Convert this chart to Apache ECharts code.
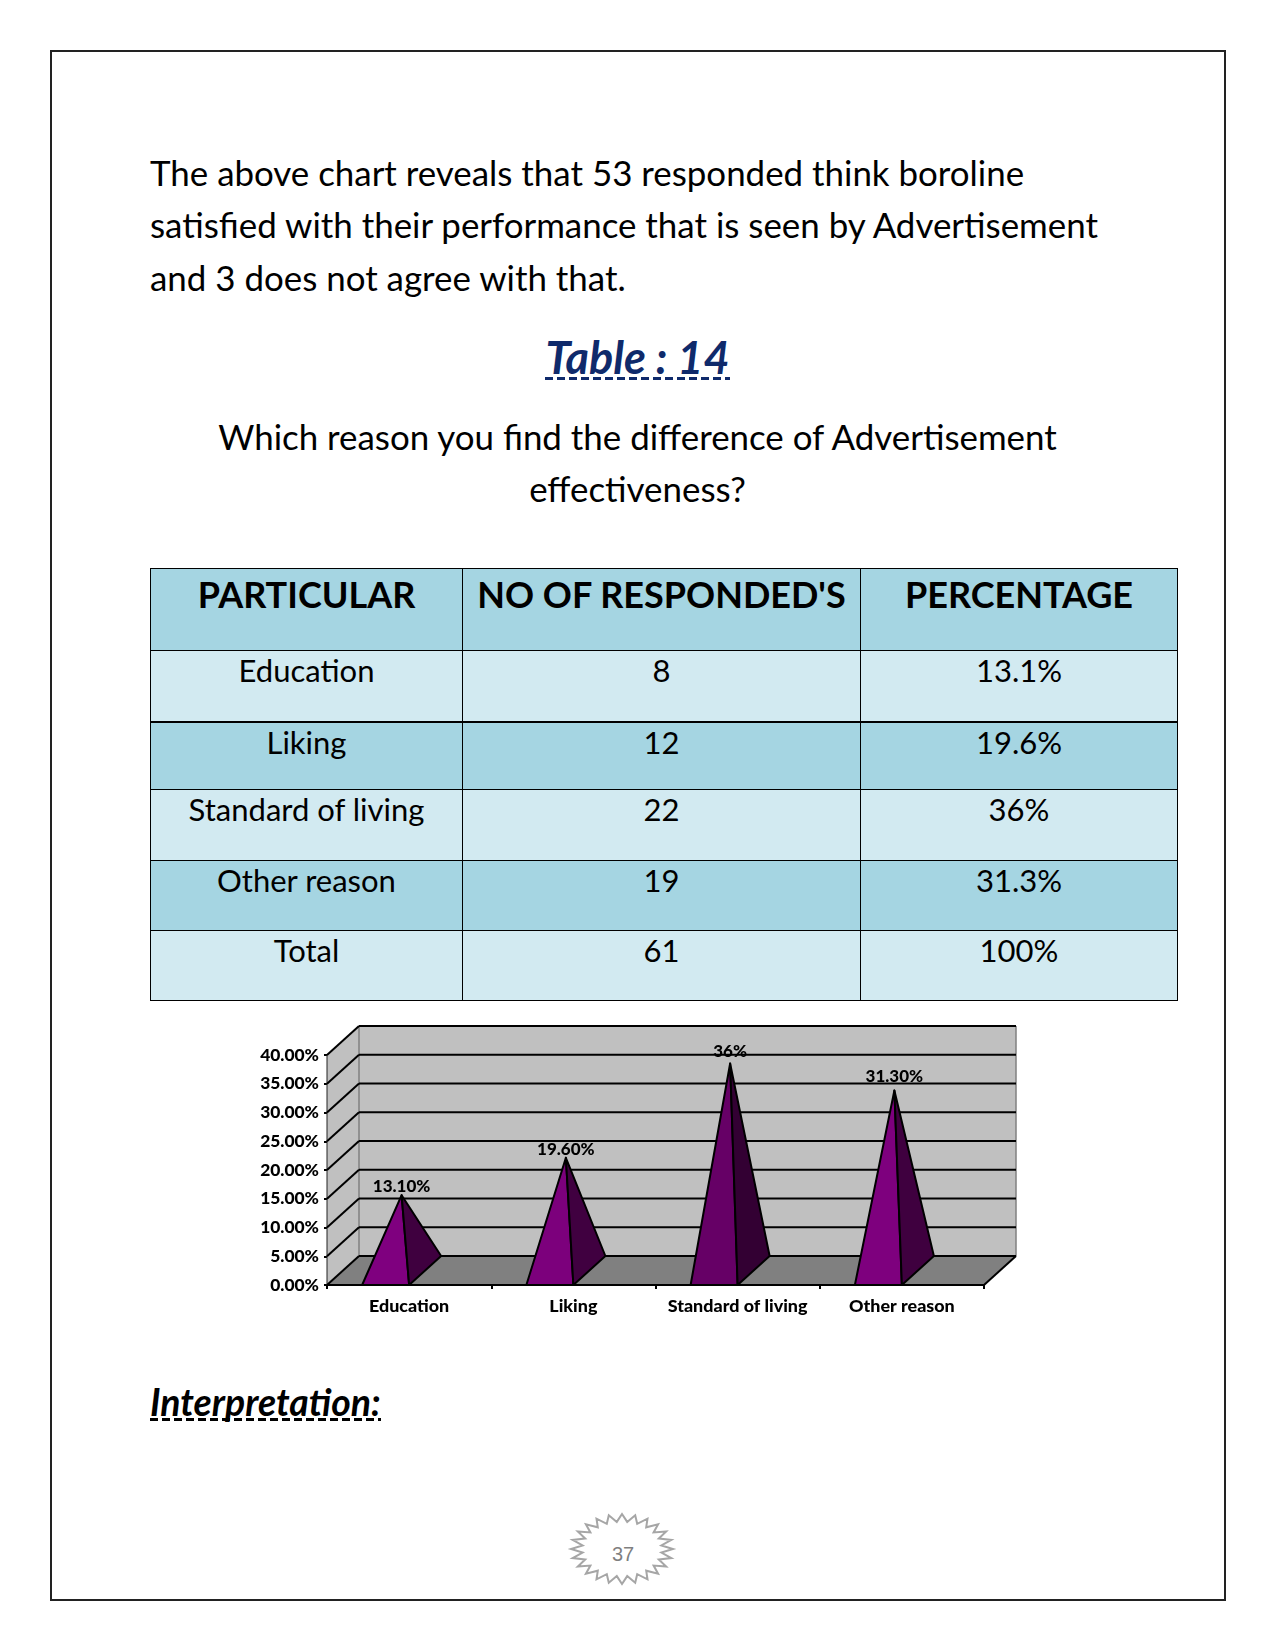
<!DOCTYPE html>
<html>
<head>
<meta charset="utf-8">
<title>Table 14</title>
<script src="https://cdn.jsdelivr.net/npm/echarts@6/dist/echarts.min.js"></script>
<style>
html, body { margin: 0; padding: 0; background: #fff; }
#page { position: relative; width: 1275px; height: 1651px; overflow: hidden; font-family: Lato, sans-serif; color: #000; }
#frame { position: absolute; left: 50px; top: 50px; width: 1172px; height: 1547px; border: 2px solid #222; }
.line { position: absolute; white-space: nowrap; line-height: 52px; height: 52px; font-size: 34.9px; }
.center { left: 0; width: 1275px; text-align: center; }
#title { font-size: 45px; font-weight: bold; font-style: italic; color: #0f2a6b; }
#title span, #interp span {
  display: inline-block;
  background: repeating-linear-gradient(90deg, #0f2a6b 0 8px, transparent 8px 12px) left bottom / 100% 3px no-repeat;
}
#title span { line-height: 46px; }
#interp { font-size: 37.4px; font-weight: bold; font-style: italic; }
#interp span { line-height: 38px; background-image: repeating-linear-gradient(90deg, #000 0 8px, transparent 8px 12px); }
#info { position: absolute; left: 150px; top: 568px; width: 1027px; height: 432px; border-collapse: collapse; table-layout: fixed; }
#info td, #info th { border: 1px solid #000; padding: 0; text-align: center; vertical-align: top; font-size: 31px; font-weight: normal; line-height: 38px; }
#info th { font-size: 36px; font-weight: bold; line-height: 51px; background: #a5d5e2; }
#info tr.dark td { background: #a5d5e2; }
#info tr.light td { background: #d2eaf1; }
#info tr.first td { border-top-width: 2px; }
#chart { position: absolute; left: 240px; top: 1010px; width: 800px; height: 320px; }
#star { position: absolute; left: 560px; top: 1500px; }
#pagenum { position: absolute; left: 593px; width: 60px; top: 1541px; text-align: center; font: 20px "Liberation Sans", sans-serif; color: #7f7f7f; line-height: 26px; }
</style>
</head>
<body>
<div id="page">
  <div id="frame"></div>
  <div class="line" style="left:150px;top:147px">The above chart reveals that 53 responded think boroline</div>
  <div class="line" style="left:150px;top:199px">satisfied with their performance that is seen by Advertisement</div>
  <div class="line" style="left:150px;top:252px">and 3 does not agree with that.</div>
  <div class="line center" id="title" style="top:331px"><span>Table : 14</span></div>
  <div class="line center" style="top:411px">Which reason you find the difference of Advertisement</div>
  <div class="line center" style="top:463px">effectiveness?</div>
  <table id="info"></table>
  <div id="chart"></div>
  <div class="line" id="interp" style="left:150px;top:1376px"><span>Interpretation:</span></div>
  <svg id="star" width="124" height="96"><polygon id="starShape" fill="none" stroke="#a6a6a6" stroke-width="2"></polygon></svg>
  <div id="pagenum">37</div>
</div>

<script>
const headers = ['PARTICULAR', "NO OF RESPONDED'S", 'PERCENTAGE'];
const particulars = ['Education', 'Liking', 'Standard of living', 'Other reason', 'Total'];
const counts = ['8', '12', '22', '19', '61'];
const percentages = ['13.1%', '19.6%', '36%', '31.3%', '100%'];

const categories = ['Education', 'Liking', 'Standard of living', 'Other reason'];
const values = [13.1, 19.6, 36, 31.3];
const valueLabels = ['13.10%', '19.60%', '36%', '31.30%'];
const yTicks = [0, 5, 10, 15, 20, 25, 30, 35, 40];

// shading differs per pyramid in the picture
const faceColors = ['#7f007f', '#7c007c', '#660066', '#7e007e'];
const sideColors = ['#3f003f', '#400040', '#330033', '#3f003f'];
const labelLift = [9, 8, 12, 14];

const DEPTH_X = 32;
const DEPTH_Y = -29;
const BASE_W = 47;
const LABEL_FONT = '900 17px Lato, sans-serif';

// table
const rowHeights = [82, 71, 68, 71, 70, 70];
const colWidths = [312, 398, 317];
let html = '<colgroup>' + colWidths.map((w) => `<col style="width:${w}px">`).join('') + '</colgroup>';
html += `<tr style="height:${rowHeights[0]}px">` + headers.map((h) => `<th>${h}</th>`).join('') + '</tr>';
particulars.forEach((p, i) => {
  const cls = (i % 2 ? 'dark' : 'light') + (i === 1 ? ' first' : '');
  html += `<tr class="${cls}" style="height:${rowHeights[i + 1]}px"><td>${p}</td><td>${counts[i]}</td><td>${percentages[i]}</td></tr>`;
});
document.getElementById('info').innerHTML = html;

// page number burst
const pts = [];
const spikes = 24;
for (let i = 0; i < spikes * 2; i++) {
  const a = (Math.PI * i) / spikes - Math.PI / 2;
  const k = i % 2 ? 0.78 : 1;
  pts.push((62 + 51 * k * Math.cos(a)).toFixed(1) + ',' + (49 + 35 * k * Math.sin(a)).toFixed(1));
}
document.getElementById('starShape').setAttribute('points', pts.join(' '));

const line = (x1, y1, x2, y2, stroke, width) => ({
  type: 'line',
  shape: { x1, y1, x2, y2 },
  style: { stroke, lineWidth: width },
});
const poly = (points, fill, stroke, width) => ({
  type: 'polygon',
  shape: { points },
  style: { fill, stroke: stroke || 'none', lineWidth: width || 0, lineJoin: 'round' },
});

// side wall, back wall, floor and their grid lines
function renderWalls(params, api) {
  const c = params.coordSys;
  const left = c.x;
  const right = c.x + c.width;
  const y0 = api.coord([0, 0])[1];
  const yTop = api.coord([0, yTicks[yTicks.length - 1]])[1];
  const children = [
    poly([[left, y0], [left + DEPTH_X, y0 + DEPTH_Y], [left + DEPTH_X, yTop + DEPTH_Y], [left, yTop]], '#c0c0c0'),
    poly([[left + DEPTH_X, y0 + DEPTH_Y], [right + DEPTH_X, y0 + DEPTH_Y], [right + DEPTH_X, yTop + DEPTH_Y], [left + DEPTH_X, yTop + DEPTH_Y]], '#c0c0c0'),
    poly([[left, y0], [right, y0], [right + DEPTH_X, y0 + DEPTH_Y], [left + DEPTH_X, y0 + DEPTH_Y]], '#808080'),
    line(left + DEPTH_X, y0 + DEPTH_Y, left + DEPTH_X, yTop + DEPTH_Y, '#808080', 1.5),
    line(right + DEPTH_X, y0 + DEPTH_Y, right + DEPTH_X, yTop + DEPTH_Y, '#808080', 1.5),
    line(left, y0, left, yTop, '#222', 1),
  ];
  yTicks.forEach((t) => {
    const y = api.coord([0, t])[1];
    children.push(line(left, y, left + DEPTH_X, y + DEPTH_Y, '#000', 2));
    children.push(line(left + DEPTH_X, y + DEPTH_Y, right + DEPTH_X, y + DEPTH_Y, '#000', 2));
  });
  children.push(line(right, y0, right + DEPTH_X, y0 + DEPTH_Y, '#000', 2));
  children.push(line(left, y0, right, y0, '#000', 2));
  return { type: 'group', children };
}

function renderPyramid(params, api) {
  const i = params.dataIndex;
  const p0 = api.coord([api.value(0), 0]);
  const pv = api.coord([api.value(0), api.value(1)]);
  const frontR = [p0[0], p0[1]];
  const frontL = [p0[0] - BASE_W, p0[1]];
  const backR = [p0[0] + DEPTH_X, p0[1] + DEPTH_Y];
  // the tip stands over the middle of the base
  const apex = [p0[0] + (DEPTH_X - BASE_W) / 2, pv[1] + DEPTH_Y / 2];
  return {
    type: 'group',
    children: [
      poly([frontL, frontR, apex], faceColors[i], '#000', 2),
      poly([frontR, backR, apex], sideColors[i], '#000', 2),
      {
        type: 'text',
        z2: 10,
        style: {
          text: valueLabels[i],
          x: apex[0],
          y: apex[1] - labelLift[i],
          align: 'center',
          verticalAlign: 'middle',
          font: LABEL_FONT,
          fill: '#000',
        },
      },
    ],
  };
}

const chart = echarts.init(document.getElementById('chart'));
chart.setOption({
  animation: false,
  grid: { left: 87, top: 45, width: 657, height: 230 },
  xAxis: {
    type: 'category',
    data: categories,
    axisLine: { lineStyle: { color: '#000', width: 2 } },
    axisTick: { show: true, length: 4, lineStyle: { color: '#000', width: 2 } },
    axisLabel: { color: '#000', fontFamily: 'Lato, sans-serif', fontWeight: 900, fontSize: 17.9, margin: 12, interval: 0 },
  },
  yAxis: {
    type: 'value',
    min: 0,
    max: 40,
    interval: 5,
    splitLine: { show: false },
    axisLine: { show: true, lineStyle: { color: '#000', width: 1 } },
    axisTick: { show: true, length: 3, lineStyle: { color: '#000', width: 2 } },
    axisLabel: {
      color: '#000',
      fontFamily: 'Lato, sans-serif',
      fontWeight: 900,
      fontSize: 17.4,
      margin: 8,
      formatter: (v) => v.toFixed(2) + '%',
    },
  },
  series: [
    { type: 'custom', z: 1, silent: true, clip: false, renderItem: renderWalls, data: [0] },
    {
      type: 'custom',
      z: 3,
      clip: false,
      encode: { x: 0, y: 1 },
      renderItem: renderPyramid,
      data: values.map((v, i) => [i, v]),
    },
  ],
});
</script>
</body>
</html>
